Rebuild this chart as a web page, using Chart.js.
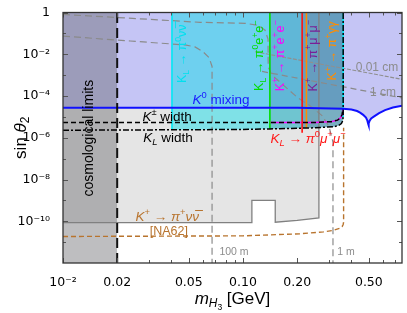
<!DOCTYPE html>
<html><head><meta charset="utf-8">
<script src="https://cdn.jsdelivr.net/npm/chart.js@4.4.0/dist/chart.umd.min.js"></script>
<style>html,body{margin:0;padding:0;background:#fff}canvas{display:block}</style>
</head><body>
<canvas id="c" width="407" height="313"></canvas>
<script>
// ---------- axis ranges & ticks ----------
const X_MIN = 0.01, X_MAX = 0.764, Y_MIN = 1e-12, Y_MAX = 1;
const xTickValues = [0.01, 0.02, 0.05, 0.1, 0.2, 0.5];
const xTickLabels = ['10⁻²', '0.02', '0.05', '0.10', '0.20', '0.50'];
const xMinorTicks = [0.03, 0.04, 0.06, 0.07, 0.08, 0.09, 0.3, 0.4, 0.6, 0.7];
const yTickValues = [1, 1e-2, 1e-4, 1e-6, 1e-8, 1e-10];
const yTickLabels = ['1', '10⁻²', '10⁻⁴', '10⁻⁶', '10⁻⁸', '10⁻¹⁰'];
const yMinorTicks = [1e-1, 1e-3, 1e-5, 1e-7, 1e-9, 1e-11];

// ---------- curves (m_H3 [GeV], sin theta2) ----------
const k0MixX = [0.01, 0.2, 0.36, 0.40, 0.43, 0.447, 0.465, 0.482, 0.49, 0.495, 0.4976, 0.5, 0.505, 0.515, 0.535, 0.57, 0.615, 0.68, 0.764];
const k0MixY = [2.75e-5, 2.7e-5, 2.45e-5, 2.25e-5, 1.9e-5, 1.6e-5, 1.25e-5, 9.2e-6, 6.8e-6, 4.8e-6, 3.9e-6, 4.8e-6, 6.5e-6, 8.5e-6, 1.05e-5, 1.5e-5, 2.1e-5, 2.8e-5, 3.4e-5];

const kpnnX = [0.01, 0.112, 0.112, 0.151, 0.151, 0.2, 0.264, 0.264];
const kpnnY = [8.5e-11, 8.5e-11, 1.0e-9, 1.0e-9, 9e-11, 1.1e-10, 1.45e-10, 1];

const na62X = [0.01, 0.1, 0.207, 0.28, 0.316, 0.345, 0.355, 0.36, 0.362, 0.362];
const na62Y = [1.86e-11, 2.0e-11, 2.5e-11, 3.1e-11, 3.6e-11, 4.6e-11, 5.5e-11, 7e-11, 9e-11, 3e-6];

const kpmWidthX = [0.01, 0.141, 0.25, 0.31, 0.335, 0.348, 0.355, 0.359];
const kpmWidthY = [5.4e-6, 5.4e-6, 5.4e-6, 5.9e-6, 7e-6, 9e-6, 1.3e-5, 2.3e-5];

const klWidthX = [0.01, 0.0403, 0.1, 0.141, 0.213, 0.25, 0.32, 0.34, 0.352, 0.358, 0.36, 0.36];
const klWidthY = [2.3e-6, 2.4e-6, 2.5e-6, 2.65e-6, 2.9e-6, 3.0e-6, 3.4e-6, 3.9e-6, 4.8e-6, 6.5e-6, 1e-5, 1];

// kaon-decay search regions: left edges
const kl_pi0nunu_start = 0.0403;
const k_ee_start = 0.141;
const k_mumu_start = 0.213;
const k_gg_start = 0.225;
const region_end = 0.36;

const cosmoX = [0.01, 0.02];
const cosmoY = [1e-12, 1e-12];

// decay-length contours
const c1mX = [0.01, 0.0304, 0.0577, 0.1026, 0.1212, 0.1325, 0.1377, 0.138, 0.145, 0.202, 0.2357, 0.2748, 0.3006, 0.316, 0.316];
const c1mY = [0.805, 0.469, 0.338, 0.304, 0.245, 0.142, 0.0537, 2.5e-3, 1.0e-3, 8.05e-5, 3.39e-5, 1.15e-5, 3.47e-6, 6.1e-7, 1e-12];
const c100mX = [0.01, 0.0236, 0.0476, 0.0541, 0.060, 0.0648, 0.0673, 0.0673];
const c100mY = [0.074, 0.043, 0.028, 0.0225, 0.0131, 6.8e-3, 2.6e-3, 1e-12];
const c001cmX = [0.1166, 0.764];
const c001cmY = [0.0131, 6.3e-4];
const c1cmX = [0.1276, 0.764];
const c1cmY = [1.5e-3, 8.05e-5];

// ---------- helpers ----------
const pts = (xs, ys) => xs.map((x, i) => ({x: x, y: ys[i]}));
function fromStart(xs, ys, start) {
  const i = xs.findIndex(v => v >= start);
  return [xs.slice(i), ys.slice(i)];
}
function ds(xs, ys, o) {
  return Object.assign({data: pts(xs, ys), borderWidth: 1, pointRadius: 0, pointHitRadius: 0,
    fill: false, tension: 0, borderColor: '#000', backgroundColor: 'transparent'}, o);
}
const [cyX, cyY] = fromStart(klWidthX, klWidthY, kl_pi0nunu_start);
const [eeX, eeY] = fromStart(klWidthX, klWidthY, k_ee_start);
const [mmX, mmY] = fromStart(klWidthX, klWidthY, k_mumu_start);
const [mgX, mgY] = fromStart(kpmWidthX, kpmWidthY, k_ee_start);

const layers = [
  ds(kpnnX, kpnnY, {fill: 'end', backgroundColor: '#e5e5e5', borderWidth: 0}),
  ds(k0MixX, k0MixY, {fill: 'end', backgroundColor: '#c5c5f5', borderWidth: 0}),
  ds(cyX, cyY, {fill: 'end', backgroundColor: 'rgba(20,220,232,0.49)', borderWidth: 0}),
  ds(eeX, eeY, {fill: 'end', backgroundColor: 'rgba(20,40,80,0.15)', borderWidth: 0}),
  ds(mmX, mmY, {fill: 'end', backgroundColor: 'rgba(120,80,120,0.25)', borderWidth: 0}),
  ds(cosmoX, cosmoY, {fill: 'end', backgroundColor: 'rgba(100,100,105,0.42)', borderWidth: 0}),
  ds(c1mX, c1mY, {borderColor: '#8a8a8a', borderWidth: 1.2, borderDash: [7, 4]}),
  ds(c100mX, c100mY, {borderColor: '#8a8a8a', borderWidth: 1.2, borderDash: [7, 4]}),
  ds(c001cmX, c001cmY, {borderColor: '#8f8f8f', borderWidth: 1.1, borderDash: [4, 1.5]}),
  ds(c1cmX, c1cmY, {borderColor: '#8a8a8a', borderWidth: 1.2, borderDash: [6, 4]}),
  ds(kpnnX, kpnnY, {borderColor: '#808080', borderWidth: 1.3}),
  ds(na62X, na62Y, {borderColor: '#b8742e', borderWidth: 1.4, borderDash: [5, 3]}),
  ds([kl_pi0nunu_start, kl_pi0nunu_start], [cyY[0], 1], {borderColor: '#00e8f5', borderWidth: 1.6}),
  ds([region_end, region_end], [1e-5, 1], {borderColor: '#00e8f5', borderWidth: 1.6}),
  ds(mgX, mgY, {borderColor: '#ff00ff', borderWidth: 1.4}),
  ds([k_ee_start, k_ee_start], [eeY[0], 1], {borderColor: '#00dd00', borderWidth: 1.6}),
  ds([k_mumu_start, k_mumu_start], [mmY[0] * 0.6, 1], {borderColor: '#ff1010', borderWidth: 1.6}),
  ds([k_gg_start, k_gg_start], [mmY[0], 1], {borderColor: '#ff8c00', borderWidth: 1.6}),
  ds(kpmWidthX, kpmWidthY, {borderColor: '#000', borderWidth: 1.5, borderDash: [5, 3]}),
  ds(klWidthX, klWidthY, {borderColor: '#000', borderWidth: 1.5, borderDash: [6, 2, 2, 2]}),
  ds(k0MixX, k0MixY, {borderColor: '#1010ff', borderWidth: 2}),
  ds([0.02, 0.02], [1e-12, 1], {borderColor: '#111', borderWidth: 2, borderDash: [10, 5]})
];
layers.forEach((d, i) => { d.order = layers.length - i; });

// ---------- annotations (data coordinates) ----------
const BROWN = '#b8742e', GRAY = '#8c8c8c';
const annotations = [
  {segs: [['cosmological limits', '']], x: 0.0139, y: 9.5e-7, size: 14, color: '#000', rot: -90},
  {segs: [['K', 'i'], ['0', 'p'], [' mixing', '']], x: 0.0755, y: 6.5e-5, size: 13.5, color: '#1a1aff'},
  {segs: [['K', 'i'], ['±', 'p'], [' width', '']], x: 0.0379, y: 9.2e-6, size: 13.5, color: '#000'},
  {segs: [['K', 'i'], ['L', 'ib'], [' width', '']], x: 0.0383, y: 9.5e-7, size: 13.5, color: '#000'},
  {segs: [['K', ''], ['L', 'b'], [' → ', ''], ['π', ''], ['0', 'p'], ['νν\u0305', '']], x: 0.0464, y: 0.0106, size: 12.5, color: '#00e0ee', rot: -90},
  {segs: [['K', ''], ['L', 'b'], [' → ', ''], ['π', ''], ['0', 'p'], ['e', ''], ['+', 'p'], ['e', ''], ['−', 'p']], x: 0.124, y: 8.5e-3, size: 12.5, color: '#00dd00', rot: -90},
  {segs: [['K', ''], ['+', 'p'], [' → ', ''], ['π', ''], ['+', 'p'], ['e', ''], ['+', 'p'], ['e', ''], ['−', 'p']], x: 0.1606, y: 8.5e-3, size: 12.5, color: '#ff00ff', rot: -90},
  {segs: [['K', ''], ['+', 'p'], [' → ', ''], ['π', ''], ['+', 'p'], ['μ', ''], ['+', 'p'], ['μ', ''], ['−', 'p']], x: 0.245, y: 8.5e-3, size: 12.5, color: '#7a1e96', rot: -90},
  {segs: [['K', ''], ['+', 'p'], [' → ', ''], ['π', ''], ['+', 'p'], ['γγ', '']], x: 0.316, y: 0.0146, size: 12.5, color: '#ff8c00', rot: -90},
  {segs: [['K', 'i'], ['L', 'ib'], [' → ', ''], ['π', 'i'], ['0', 'p'], ['μ', 'i'], ['+', 'p'], ['μ', 'i'], ['−', 'p']], x: 0.2297, y: 8.5e-7, size: 13.5, color: '#ff1a1a'},
  {segs: [['0.01 cm', '']], x: 0.555, y: 2.3e-3, size: 12, color: GRAY},
  {segs: [['1 cm', '']], x: 0.6, y: 1.38e-4, size: 12, color: GRAY},
  {segs: [['100 m', '']], x: 0.0891, y: 3.3e-12, size: 10.5, color: GRAY},
  {segs: [['1 m', '']], x: 0.373, y: 3.3e-12, size: 10.5, color: GRAY},
  {segs: [['K', 'i'], ['+', 'p'], [' → ', ''], ['π', 'i'], ['+', 'p'], ['νν\u0305', 'i']], x: 0.0379, y: 1.63e-10, size: 13.5, color: BROWN},
  {segs: [['[NA62]', '']], x: 0.0387, y: 3.2e-11, size: 12.5, color: BROWN}
];

const FONT = '"Liberation Sans", Arial, Helvetica, sans-serif';
const TICK_FONT = '"DejaVu Sans", sans-serif';
function segFont(st, size) {
  let s = size;
  if (st.includes('c')) s = size * 0.5; else if (st.includes('b') || st.includes('p')) s = size * 0.7;
  return (st.includes('i') ? 'italic ' : '') + s.toFixed(1) + 'px ' + FONT;
}
function segDy(st, size) {
  if (st.includes('c')) return size * 0.48;
  if (st.includes('b')) return size * 0.3;
  if (st.includes('p')) return -size * 0.36;
  return 0;
}
function drawRich(ctx, segs, x, y, size, color, rot) {
  ctx.save();
  ctx.translate(x, y);
  if (rot) ctx.rotate(rot * Math.PI / 180);
  ctx.fillStyle = color; ctx.textBaseline = 'middle'; ctx.textAlign = 'left';
  let w = 0;
  for (const s of segs) { ctx.font = segFont(s[1], size); w += ctx.measureText(s[0]).width; }
  let cx = -w / 2;
  for (const s of segs) { ctx.font = segFont(s[1], size); ctx.fillText(s[0], cx, segDy(s[1], size)); cx += ctx.measureText(s[0]).width; }
  ctx.restore();
}

const decor = {
  id: 'decor',
  afterDraw(chart) {
    const ctx = chart.ctx, a = chart.chartArea, xs = chart.scales.x, ys = chart.scales.y;
    ctx.save();
    ctx.beginPath(); ctx.rect(a.left, a.top, a.right - a.left, a.bottom - a.top); ctx.clip();
    for (const an of annotations) {
      drawRich(ctx, an.segs, xs.getPixelForValue(an.x), ys.getPixelForValue(an.y), an.size, an.color, an.rot);
    }
    ctx.restore();
    // ticks inside frame
    ctx.save();
    ctx.strokeStyle = '#555'; ctx.lineWidth = 1;
    const tick = (x1, y1, x2, y2) => { ctx.beginPath(); ctx.moveTo(x1, y1); ctx.lineTo(x2, y2); ctx.stroke(); };
    xTickValues.forEach(v => { const p = Math.round(xs.getPixelForValue(v)) + 0.5; tick(p, a.bottom, p, a.bottom - 5); tick(p, a.top, p, a.top + 5); });
    xMinorTicks.forEach(v => { const p = Math.round(xs.getPixelForValue(v)) + 0.5; tick(p, a.bottom, p, a.bottom - 3); tick(p, a.top, p, a.top + 3); });
    yTickValues.forEach(v => { const p = Math.round(ys.getPixelForValue(v)) + 0.5; tick(a.left, p, a.left + 5, p); tick(a.right, p, a.right - 5, p); });
    yMinorTicks.forEach(v => { const p = Math.round(ys.getPixelForValue(v)) + 0.5; tick(a.left, p, a.left + 3, p); tick(a.right, p, a.right - 3, p); });
    // frame
    ctx.strokeStyle = '#333'; ctx.lineWidth = 1.3;
    ctx.strokeRect(a.left, a.top, a.right - a.left, a.bottom - a.top);
    ctx.restore();
    // axis titles
    drawRich(ctx, [['sin ', ''], ['θ', 'i'], ['2', 'b']], 21, (a.top + a.bottom) / 2, 17, '#000', -90);
    drawRich(ctx, [['m', 'i'], ['H', 'ib'], ['3', 'c'], [' [GeV]', '']], (a.left + a.right) / 2, 299, 17, '#000', 0);
  }
};

new Chart(document.getElementById('c'), {
  type: 'line',
  data: {datasets: layers},
  options: {
    responsive: false, animation: false, devicePixelRatio: 1,
    layout: {padding: {left: 0, right: 5, top: 8, bottom: 0}},
    plugins: {legend: {display: false}, tooltip: {enabled: false}, filler: {propagate: false}},
    scales: {
      x: {
        type: 'logarithmic', min: X_MIN, max: X_MAX,
        grid: {display: false}, border: {display: false},
        afterBuildTicks: s => { s.ticks = xTickValues.map(v => ({value: v})); },
        afterFit: s => { s.height = 50; },
        ticks: {autoSkip: false, maxRotation: 0, padding: 4, color: '#000',
          font: {family: TICK_FONT, size: 12.5},
          callback: v => { const i = xTickValues.findIndex(t => Math.abs(t - v) / t < 1e-6); return i >= 0 ? xTickLabels[i] : ''; }}
      },
      y: {
        type: 'logarithmic', min: Y_MIN, max: Y_MAX,
        grid: {display: false}, border: {display: false},
        afterBuildTicks: s => { s.ticks = yTickValues.map(v => ({value: v})); },
        afterFit: s => { s.width = 63; },
        ticks: {autoSkip: false, padding: 5, color: '#000',
          font: {family: TICK_FONT, size: 12.5},
          callback: v => { const i = yTickValues.findIndex(t => Math.abs(t - v) / t < 1e-6); return i >= 0 ? yTickLabels[i] : ''; }}
      }
    }
  },
  plugins: [decor]
});
</script>
</body></html>
